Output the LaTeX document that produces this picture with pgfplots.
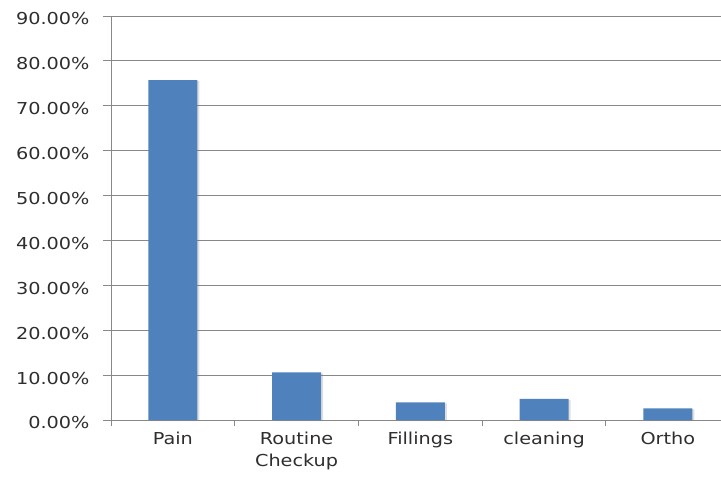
\documentclass[border=0pt]{standalone}
\usepackage{pgfplots}
\pgfplotsset{compat=1.18}
\usepackage{fontspec}
\setmainfont{DejaVu Sans}[FakeStretch=1.17]
\usetikzlibrary{shadows}
\definecolor{barblue}{HTML}{4F81BD}
\definecolor{gridgray}{HTML}{888888}
\definecolor{labelgray}{HTML}{2E2E2E}
\begin{document}
\begin{tikzpicture}
\begin{axis}[
  at={(0,0)}, anchor=south west,
  scale only axis, width=610bp, height=404bp,
  xmin=-0.5, xmax=4.43, ymin=0, ymax=90,
  axis lines=left, axis line style={gridgray, line width=0.9pt, -},
  ytick={0,10,...,90},
  ymajorgrids, grid style={gridgray, line width=0.9pt},
  yticklabel={\pgfmathprintnumber[fixed,fixed zerofill,precision=2]{\tick}\%},
  /pgf/number format/assume math mode=true,
  tick align=outside,
  major tick length=8bp, minor tick length=6bp,
  tick style={gridgray, line width=0.9pt},
  xtick={0,...,4},
  xticklabels={Pain, Routine\\Checkup, Fillings, cleaning, Ortho},
  major x tick style={draw=none},
  minor xtick={-0.5,0.5,1.5,2.5,3.5},
  ticklabel style={font=\fontsize{16.5}{22.5}\selectfont, text=labelgray},
  yticklabel style={xshift=-10bp, yshift=-3bp},
  xticklabel style={align=center, anchor=north},
  clip=false,
]
\addplot[ybar, bar width=49bp, fill=barblue, draw=none,
  drop shadow={shadow xshift=2bp, shadow yshift=-1bp, opacity=0.25}]
  coordinates {(0,75.7) (1,10.6) (2,3.9) (3,4.7) (4,2.6)};
\end{axis}
\pgfresetboundingbox
\path (-111bp,-57bp) rectangle (610bp,420bp);
\end{tikzpicture}
\end{document}
